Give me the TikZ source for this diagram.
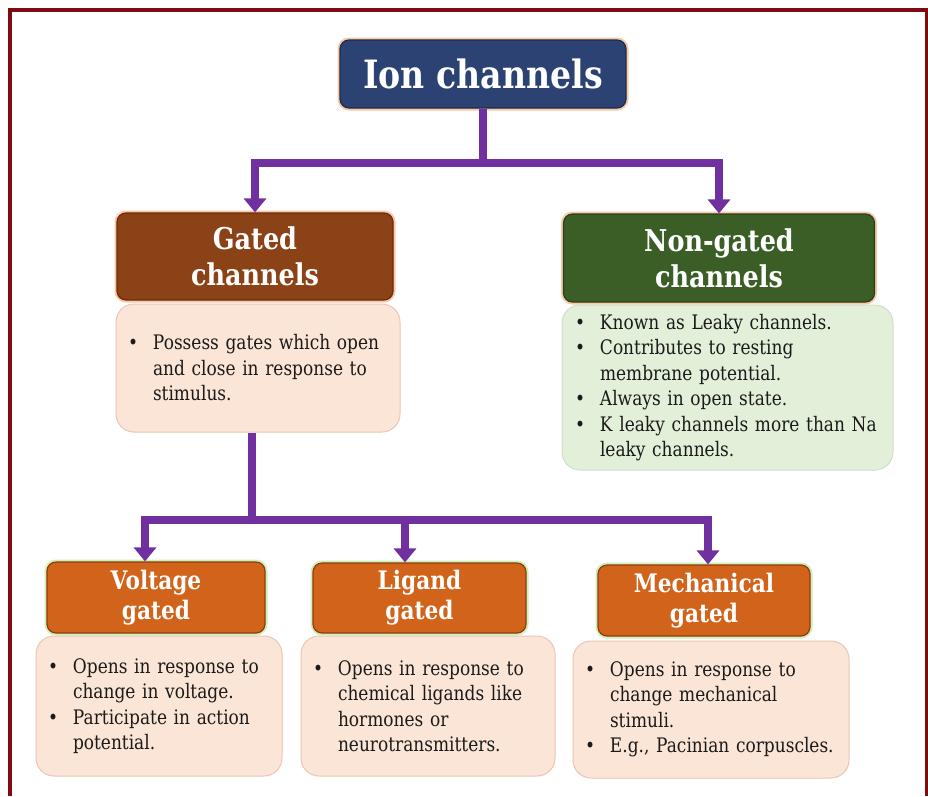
\documentclass[tikz,border=0pt]{standalone}
\usepackage{fontspec}
\setmainfont{DejaVu Serif}[FakeStretch=0.85]
\usetikzlibrary{arrows.meta}

\definecolor{framered}{HTML}{7E0B12}
\definecolor{navy}{HTML}{2B4272}
\definecolor{navyd}{HTML}{1B2C50}
\definecolor{brownbox}{HTML}{8B4216}
\definecolor{brownd}{HTML}{6E2A0C}
\definecolor{greenbox}{HTML}{3B5E27}
\definecolor{greend}{HTML}{263F18}
\definecolor{orangebox}{HTML}{D2631A}
\definecolor{oranged}{HTML}{8E3C0C}
\definecolor{gloworange}{HTML}{F9C9A6}
\definecolor{glowgreen}{HTML}{CDEFB8}
\definecolor{peach}{HTML}{FBE5D6}
\definecolor{peachd}{HTML}{E9C6B6}
\definecolor{mint}{HTML}{E2F0D9}
\definecolor{mintd}{HTML}{D3DDC8}
\definecolor{purp}{HTML}{7030A0}
\definecolor{bodytext}{HTML}{1A1A1A}

% bullet line and continuation line inside the description boxes
\newcommand\bl[1]{\makebox[25pt][l]{\textbullet}\mbox{#1}}
\newcommand\cl[1]{\hspace*{25pt}\mbox{#1}}

\begin{document}
\begin{tikzpicture}[x=1pt,y=-1pt,
  headbox/.style={rounded corners=9pt, line width=1.2pt, text=white,
    align=center, inner sep=0pt,
    preaction={draw=#1, line width=5pt}},
  headbox/.default=gloworange,
  toptitle/.style={font=\bfseries\fontsize{39}{42}\selectfont},
  midtitle/.style={font=\bfseries\fontsize{30}{36}\selectfont},
  lowtitle/.style={font=\bfseries\fontsize{25.5}{30}\selectfont},
  descbox/.style={rounded corners=18pt, line width=1pt, inner xsep=12pt,
    inner ysep=0pt, align=left, text=bodytext,
    font=\fontsize{20}{25.5}\selectfont},
  conn/.style={draw=purp, line width=8pt},
  arr/.style={conn, -{Triangle[width=22pt,length=14pt]}}
]
\useasboundingbox (0,0) rectangle (928,796);
\fill[white] (0,0) rectangle (928,796);

% outer frame
\draw[framered, line width=4pt] (10,796) -- (10,10) -- (926.5,10) -- (926.5,796);

% top level
\node[headbox, fill=navy, draw=navyd, toptitle, minimum width=286pt,
  minimum height=68pt] (ion) at (483,74) {Ion channels};

% second level
\node[headbox, fill=brownbox, draw=brownd, midtitle, minimum width=276pt,
  minimum height=87pt] (gated) at (255,256.5) {Gated\\channels};
\node[headbox, fill=greenbox, draw=greend, midtitle, minimum width=311pt,
  minimum height=88pt] (nongated) at (719,258) {Non-gated\\channels};

\node[descbox, fill=peach, draw=peachd, text width=260pt,
  minimum height=128pt] (gdesc) at (258,368)
  {\bl{Possess gates which open}\\
   \cl{and close in response to}\\
   \cl{stimulus.}};

\node[descbox, fill=mint, draw=mintd, text width=305pt,
  minimum height=165pt, inner xsep=13pt] (ndesc) at (727.5,387.5)
  {\bl{Known as Leaky channels.}\\
   \bl{Contributes to resting}\\
   \cl{membrane potential.}\\
   \bl{Always in open state.}\\
   \bl{K leaky channels more than Na}\\
   \cl{leaky channels.}};

% third level
\node[headbox=glowgreen, fill=orangebox, draw=oranged, lowtitle,
  minimum width=218pt, minimum height=71pt] (vg) at (156,597.5)
  {Voltage\\gated};
\node[headbox=glowgreen, fill=orangebox, draw=oranged, lowtitle,
  minimum width=213pt, minimum height=70pt] (lg) at (419.5,598)
  {Ligand\\gated};
\node[headbox=glowgreen, fill=orangebox, draw=oranged, lowtitle,
  minimum width=212pt, minimum height=71pt] (mg) at (704,600.5)
  {Mechanical\\gated};

\node[descbox, fill=peach, draw=peachd, text width=222pt,
  minimum height=140pt] (vdesc) at (159,706)
  {\bl{Opens in response to}\\
   \cl{change in voltage.}\\
   \bl{Participate in action}\\
   \cl{potential.}};
\node[descbox, fill=peach, draw=peachd, text width=230pt,
  minimum height=140pt] (ldesc) at (428,706)
  {\bl{Opens in response to}\\
   \cl{chemical ligands like}\\
   \cl{hormones or}\\
   \cl{neurotransmitters.}};
\node[descbox, fill=peach, draw=peachd, text width=252pt,
  minimum height=137pt] (mdesc) at (711,709.5)
  {\bl{Opens in response to}\\
   \cl{change mechanical}\\
   \cl{stimuli.}\\
   \bl{E.g., Pacinian corpuscles.}};

% connectors: top split
\coordinate (j1) at (483,163);
\draw[conn] (ion.south) -- (j1);
\draw[arr] (j1) -| (gated.north);
\draw[arr] (j1) -| (nongated.north);

% connectors: gated split
\coordinate (j2) at (252,520);
\coordinate (b1) at (145,520);
\coordinate (b2) at (405,520);
\coordinate (b3) at (708,520);
\draw[conn] (gdesc.south -| j2) -- (j2);
\draw[arr] (j2) -| (b1 |- vg.north);
\draw[arr] (b2) -- (b2 |- lg.north);
\draw[arr] (j2) -| (b3 |- mg.north);
\end{tikzpicture}
\end{document}
